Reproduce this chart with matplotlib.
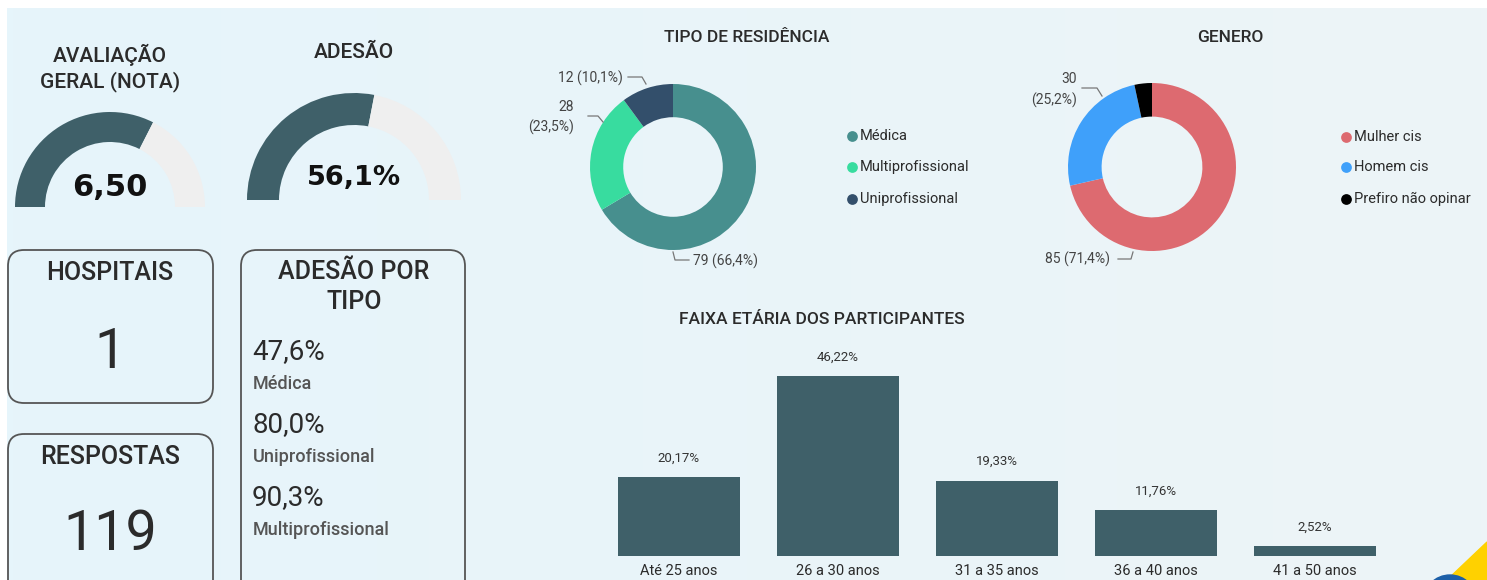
import numpy as np
import matplotlib
matplotlib.use("Agg")
import matplotlib.pyplot as plt
from matplotlib.patches import FancyBboxPatch, Polygon, Circle

# ---------------- data ----------------
nota_value = 6.50
nota_max = 10.0
adesao_value = 56.1
adesao_max = 100.0

hospitais = 1
respostas = 119

adesao_tipo_values = ["47,6%", "80,0%", "90,3%"]
adesao_tipo_labels = ["Médica", "Uniprofissional", "Multiprofissional"]

residencia_labels = ["Médica", "Multiprofissional", "Uniprofissional"]
residencia_counts = [79, 28, 12]
residencia_pct = ["66,4%", "23,5%", "10,1%"]

genero_labels = ["Mulher cis", "Homem cis", "Prefiro não opinar"]
genero_counts = [85, 30, 4]
genero_pct = ["71,4%", "25,2%", "3,4%"]

faixa_labels = ["Até 25 anos", "26 a 30 anos", "31 a 35 anos", "36 a 40 anos", "41 a 50 anos"]
faixa_values = [20.17, 46.22, 19.33, 11.76, 2.52]

# ---------------- styles ----------------
W, H = 1487, 580
GAUGE_C = "#3f6069"
GAUGE_BG = "#efefef"
RES_COLORS = ["#478f8e", "#38dc9f", "#334f6b"]
GEN_COLORS = ["#dd6a70", "#3fa0fa", "#000000"]
BAR_C = "#3f6069"
TXT = "#2b2b2b"
FONT = "Roboto"

fig = plt.figure(figsize=(W / 100, H / 100), dpi=100)
fig.patch.set_facecolor("white")

def px_axes(cx, cy, w, h, **kw):
    return fig.add_axes([(cx - w / 2) / W, 1 - (cy + h / 2) / H, w / W, h / H], **kw)

# background / overlay axes in pixel coordinates
bg = fig.add_axes([0, 0, 1, 1], zorder=-5)
bg.set_xlim(0, W)
bg.set_ylim(H, 0)
bg.axis("off")
grad = np.linspace(0, 1, 256)
c0 = np.array([230, 245, 251]) / 255
c1 = np.array([237, 244, 247]) / 255
img = c0[None, :] * (1 - grad[:, None]) + c1[None, :] * grad[:, None]
bg.imshow(img[None, :, :], extent=[7, W, H, 8], aspect="auto", zorder=0)
bg.add_patch(Polygon([(1447, 580), (1487, 542), (1487, 580)], closed=True,
                     color="#ffd100", zorder=1))
bg.add_patch(Circle((1450, 602), 27, color="#1c5fa8", zorder=2))

ov = fig.add_axes([0, 0, 1, 1], zorder=5)
ov.set_xlim(0, W)
ov.set_ylim(H, 0)
ov.axis("off")
ov.patch.set_alpha(0)

# ---------------- gauges ----------------
def gauge(cx, cy, R, width_px, value, vmax, txt, ty, fs):
    ax = px_axes(cx, cy, 2 * R, 2 * R, zorder=2)
    ax.pie([value, vmax - value, vmax], startangle=180, counterclock=False,
           colors=[GAUGE_C, GAUGE_BG, "none"], radius=1,
           wedgeprops=dict(width=width_px / R, linewidth=0))
    ax.set_xlim(-1, 1)
    ax.set_ylim(-1, 1)
    ax.set_aspect("equal")
    ax.axis("off")
    ov.text(cx, ty, txt, ha="center", va="center", fontsize=fs,
            fontweight="bold", family="DejaVu Sans", color="#111111")

gauge(110, 207, 95, 30, nota_value, nota_max, "6,50", 188, 22)
gauge(354, 200, 107, 32, adesao_value, adesao_max,
      f"{adesao_value:.1f}%".replace(".", ","), 178, 19.5)

HEAD = dict(ha="center", va="center", family=FONT, color=TXT, fontweight="medium")
ov.text(110, 55, "AVALIAÇÃO", fontsize=15, **HEAD)
ov.text(110, 82, "GERAL (NOTA)", fontsize=15, **HEAD)
ov.text(354, 52, "ADESÃO", fontsize=15, **HEAD)

# ---------------- cards ----------------
def card(x0, y0, x1, y1):
    ov.add_patch(FancyBboxPatch((x0, y0), x1 - x0, y1 - y0,
                                boxstyle="round,pad=0,rounding_size=16",
                                fc="none", ec="#555555", lw=1.3, zorder=3))

card(8, 250, 213, 403)
card(8, 434, 213, 600)
card(241, 250, 465, 600)

ov.text(110, 273, "HOSPITAIS", fontsize=18, **HEAD)
ov.text(110, 353, str(hospitais), ha="center", va="center", fontsize=40, family=FONT, color=TXT)
ov.text(110, 457, "RESPOSTAS", fontsize=18, **HEAD)
ov.text(110, 534, str(respostas), ha="center", va="center", fontsize=40, family=FONT, color=TXT)
ov.text(354, 272, "ADESÃO POR", fontsize=18, **HEAD)
ov.text(354, 302, "TIPO", fontsize=18, **HEAD)

for i, (v, lab) in enumerate(zip(adesao_tipo_values, adesao_tipo_labels)):
    y = 352 + i * 73
    ov.text(252, y, v, ha="left", va="center", fontsize=20, family=FONT, color=TXT)
    ov.text(253, y + 32, lab, ha="left", va="center", fontsize=13, family=FONT,
            fontweight="medium", color="#555555")

# ---------------- donuts ----------------
def donut(cx, cy, R, counts, colors):
    ax = px_axes(cx, cy, 2 * R, 2 * R, zorder=2)
    ax.pie(counts, startangle=90, counterclock=False, colors=colors, radius=1,
           wedgeprops=dict(width=0.4, linewidth=0))
    ax.set_xlim(-1, 1)
    ax.set_ylim(-1, 1)
    ax.set_aspect("equal")
    ax.axis("off")

donut(673, 167, 83, residencia_counts, RES_COLORS)
donut(1152, 167, 84, genero_counts, GEN_COLORS)

ov.text(747, 38, "TIPO DE RESIDÊNCIA", ha="center", va="center", fontsize=12.5,
        family=FONT, fontweight="medium", color=TXT)
ov.text(1230, 38, "GENERO", ha="center", va="center", fontsize=12.5,
        family=FONT, fontweight="medium", color=TXT)

LBL = dict(fontsize=10, family=FONT, color="#444444", va="center")
LN = dict(color="#777777", lw=0.9)
# residência labels
ov.text(623, 78, f"{residencia_counts[2]} ({residencia_pct[2]})", ha="right", **LBL)
ov.plot([628, 642, 646], [77, 77, 84], **LN)
ov.text(574, 107, f"{residencia_counts[1]}", ha="right", **LBL)
ov.text(574, 127, f"({residencia_pct[1]})", ha="right", **LBL)
ov.plot([588, 598, 603], [116, 116, 122], **LN)
ov.text(693, 261, f"{residencia_counts[0]} ({residencia_pct[0]})", ha="left", **LBL)
ov.plot([673, 675, 689], [252, 260, 260], **LN)
# genero labels
ov.text(1077, 79, f"{genero_counts[1]}", ha="right", **LBL)
ov.text(1077, 100, f"({genero_pct[1]})", ha="right", **LBL)
ov.plot([1082, 1097, 1102], [88, 88, 96], **LN)
ov.text(1110, 259, f"{genero_counts[0]} ({genero_pct[0]})", ha="right", **LBL)
ov.plot([1118, 1131, 1133], [259, 259, 252], **LN)

# legends
def legend(x, ys, labels, colors):
    for y, lab, c in zip(ys, labels, colors):
        ov.scatter([x], [y], s=60, color=c, zorder=6, linewidths=0)
        ov.text(x + 8, y, lab, ha="left", va="center", fontsize=10.5, family=FONT, color=TXT)

legend(852, [136, 167, 199], residencia_labels, RES_COLORS)
legend(1346, [137, 167, 199], genero_labels, GEN_COLORS)

# ---------------- bar chart ----------------
step = 159
left = 679 - step / 2
bax = fig.add_axes([left / W, (H - 556) / H, 5 * step / W, 50 * 3.894 / H], zorder=2)
bax.patch.set_alpha(0)
x = np.arange(len(faixa_values))
bax.bar(x, faixa_values, width=0.767, color=BAR_C)
bax.set_xlim(-0.5, 4.5)
bax.set_ylim(0, 50)
bax.set_xticks(x)
bax.set_xticklabels(faixa_labels, fontsize=10.5, family=FONT, color=TXT)
bax.tick_params(axis="x", length=0, pad=6)
bax.set_yticks([])
for s in bax.spines.values():
    s.set_visible(False)
for xi, v in zip(x, faixa_values):
    bax.annotate(f"{v:.2f}%".replace(".", ","), (xi, v), xytext=(0, 19),
                 textcoords="offset pixels", ha="center", va="center",
                 fontsize=9.5, family=FONT, color="#333333", clip_on=False)

ov.text(822, 320, "FAIXA ETÁRIA DOS PARTICIPANTES", ha="center", va="center",
        fontsize=12.5, family=FONT, fontweight="medium", color=TXT)

fig.savefig("out.png", dpi=100)
